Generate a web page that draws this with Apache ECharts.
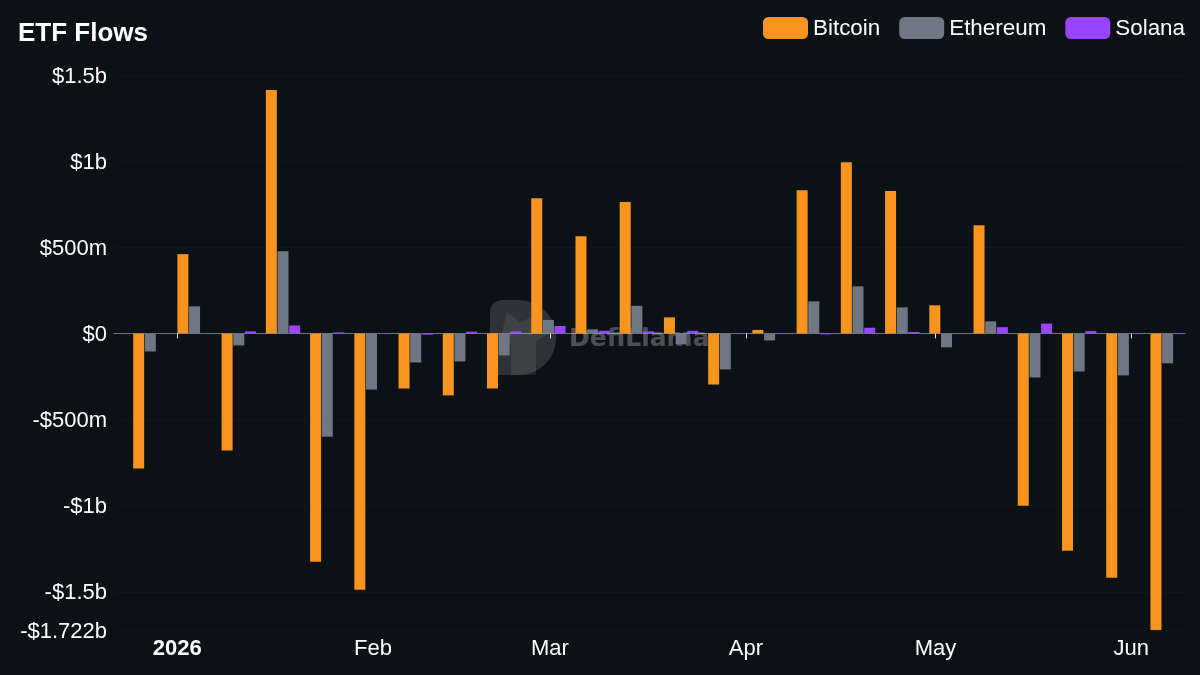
<!DOCTYPE html>
<html>
<head>
<meta charset="utf-8">
<style>html,body{margin:0;padding:0;background:#0b1215}#c{width:1200px;height:675px}</style>
<script src="https://cdn.jsdelivr.net/npm/echarts@6/dist/echarts.min.js"></script>
</head>
<body>
<div id="c"></div>
<script>
const weeks = ['2025-12-27T18','2026-01-03T18','2026-01-10T18','2026-01-17T18','2026-01-24T18','2026-01-31T18','2026-02-07T18','2026-02-14T18','2026-02-21T18','2026-02-28T18','2026-03-07T18','2026-03-14T18','2026-03-21T18','2026-03-28T18','2026-04-04T18','2026-04-11T18','2026-04-18T18','2026-04-25T18','2026-05-02T18','2026-05-09T18','2026-05-16T18','2026-05-23T18','2026-05-30T18','2026-06-06T18'];
const bitcoin = [-785,460,-680,1413,-1326,-1488,-320,-360,-320,785,564,762,93,-297,20,831,994,826,163,628,-1000,-1262,-1419,-1722];
const ethereum = [-105,157,-70,477,-600,-326,-169,-163,-128,78,23,160,-64,-209,-41,186,273,151,-81,70,-256,-221,-244,-174];
const solana = [-1,1,12,46,6,-2,-8,10,12,43,15,12,15,-3,-3,-6,33,8,1,36,57,13,-2,-3];
const yTickValues = [1500,1000,500,0,-500,-1000,-1500,-1722];
const yTickLabels = ['$1.5b','$1b','$500m','$0','-$500m','-$1b','-$1.5b','-$1.722b'];
const xTickDates = ['2026-01-01T00','2026-02-01T00','2026-03-01T00','2026-04-01T00','2026-05-01T00','2026-06-01T00'];
const xTickLabels = ['2026','Feb','Mar','Apr','May','Jun'];

const FONT = '"Liberation Sans", Arial, sans-serif';
const toTime = s => new Date(s + ':00:00Z').getTime();
const xTicks = xTickDates.map(toTime);
const barStyle = { type: 'bar', barWidth: 11, barGap: '6%' };
const pair = arr => arr.map((v, i) => [toTime(weeks[i]), v]);

const chart = echarts.init(document.getElementById('c'), null, { renderer: 'canvas' });
chart.setOption({
  animation: false,
  backgroundColor: '#0b1215',
  textStyle: { fontFamily: FONT },
  title: {
    text: 'ETF Flows', left: 13, top: 16,
    textStyle: { color: '#ffffff', fontSize: 26, fontWeight: 'bold', fontFamily: FONT }
  },
  legend: {
    right: 10, top: 12, itemWidth: 45, itemHeight: 22, itemGap: 19,
    icon: 'roundRect',
    textStyle: {
      color: '#ffffff', fontSize: 22.4, fontFamily: FONT,
      rich: { t: { color: '#ffffff', fontSize: 22.4, fontFamily: FONT, padding: [2, 0, 0, 0] } }
    },
    formatter: n => '{t|' + n + '}',
    data: ['Bitcoin', 'Ethereum', 'Solana']
  },
  grid: { left: 114, right: 15, top: 75, bottom: 45 },
  xAxis: {
    type: 'value',
    min: toTime('2025-12-22T00'), max: toTime('2026-06-09T12'),
    axisLine: { onZero: true, lineStyle: { color: '#6b7280', width: 1 } },
    axisTick: { show: true, length: 5, customValues: xTicks, lineStyle: { color: '#e6e6e6', width: 1 } },
    splitLine: { show: false },
    axisLabel: {
      customValues: xTicks, color: '#ffffff', fontSize: 22, fontFamily: FONT,
      formatter: v => {
        const i = xTicks.indexOf(v);
        const s = xTickLabels[i];
        return i === 0 ? '{b|' + s + '}' : s;
      },
      rich: { b: { fontWeight: 'bold', fontSize: 22, color: '#ffffff', fontFamily: FONT } }
    }
  },
  yAxis: {
    type: 'value', min: -1722, max: 1500,
    axisLine: { show: false }, axisTick: { show: false },
    splitLine: { show: true, lineStyle: { color: 'rgba(255,255,255,0.025)', width: 1 } },
    axisLabel: {
      customValues: yTickValues, color: '#ffffff', fontSize: 22, fontFamily: FONT, margin: 7,
      formatter: v => '{v|' + yTickLabels[yTickValues.indexOf(v)] + '}',
      rich: { v: { color: '#ffffff', fontSize: 22, fontFamily: FONT, padding: [3, 0, 0, 0] } }
    }
  },
  graphic: [
    { type: 'rect', z: 1, silent: true,
      shape: { x: 490, y: 300, width: 66, height: 75, r: [12, 37, 37, 8] },
      style: { fill: 'rgba(255,255,255,0.14)' } },
    { type: 'polygon', z: 1, silent: true,
      shape: { points: [[507,312],[520,322],[535,316],[553,331],[536,341],[536,375],[511,375],[511,346],[501,336]] },
      style: { fill: 'rgba(255,255,255,0.08)' } },
    { type: 'text', z: 1, silent: true, left: 569, top: 327,
      style: { text: 'DefiLlama', fill: 'rgba(255,255,255,0.26)', font: 'bold 25px "DejaVu Sans", sans-serif' } }
  ],
  series: [
    Object.assign({ name: 'Bitcoin', data: pair(bitcoin), itemStyle: { color: '#f9951f' } }, barStyle),
    Object.assign({ name: 'Ethereum', data: pair(ethereum), itemStyle: { color: '#6f7784' } }, barStyle),
    Object.assign({ name: 'Solana', data: pair(solana), itemStyle: { color: '#9945ff' } }, barStyle)
  ]
});
</script>
</body>
</html>
